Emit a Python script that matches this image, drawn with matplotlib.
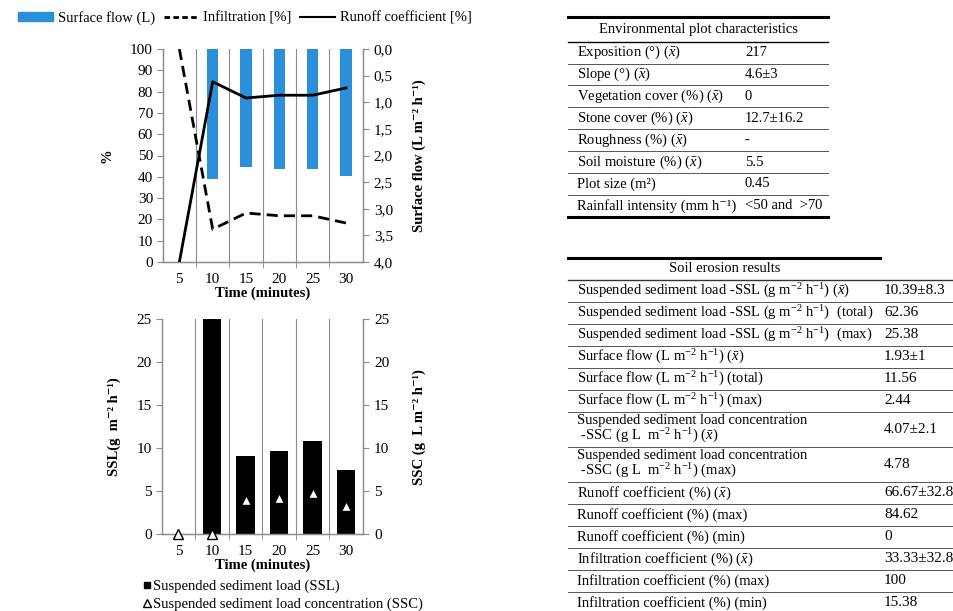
import matplotlib
matplotlib.use("Agg")
import matplotlib.pyplot as plt
from matplotlib.lines import Line2D
from matplotlib.patches import Patch
import numpy as np

plt.rcParams['font.family'] = ['Liberation Serif', 'DejaVu Serif']
plt.rcParams['mathtext.fontset'] = 'custom'
plt.rcParams['mathtext.rm'] = 'Liberation Serif'
plt.rcParams['mathtext.it'] = 'Liberation Serif:italic'
plt.rcParams['mathtext.bf'] = 'Liberation Serif:bold'

# ---------------- data ----------------
time_labels = ['5', '10', '15', '20', '25', '30']
surface_flow = [0, 2.44, 2.22, 2.26, 2.26, 2.38]        # L m-2 h-1 (right axis, inverted)
runoff_coef = [0, 84.62, 77.0, 78.3, 78.3, 81.7]        # %
infiltration = [100, 15.38, 23.0, 21.7, 21.7, 18.3]     # %
ssl = [0, 25.38, 9.05, 9.65, 10.8, 7.48]                # g m-2 h-1
ssc = [0, 0, 3.98, 4.2, 4.78, 3.3]                      # g L m-2 h-1

left_ticks_top = [0, 10, 20, 30, 40, 50, 60, 70, 80, 90, 100]
right_ticks_top = [0.0, 0.5, 1.0, 1.5, 2.0, 2.5, 3.0, 3.5, 4.0]
ticks_bottom = [0, 5, 10, 15, 20, 25]

XB = r'($\bar{x}$)'
U = r'm$^{-2}$ h$^{-1}$'
env_title = 'Environmental plot characteristics'
env_labels = ['Exposition (°) ' + XB, 'Slope (°) ' + XB,
              'Vegetation cover (%) ' + XB, 'Stone cover (%) ' + XB,
              'Roughness (%) ' + XB, 'Soil moisture (%) ' + XB,
              'Plot size (m²)', 'Rainfall intensity (mm h⁻¹)']
env_values = ['217', '4.6±3', '0', '12.7±16.2', '-', '5.5', '0.45', '<50 and  >70']

res_title = 'Soil erosion results'
res_labels = ['Suspended sediment load -SSL (g ' + U + ') ' + XB,
              'Suspended sediment load -SSL (g ' + U + ')  (total)',
              'Suspended sediment load -SSL (g ' + U + ')  (max)',
              'Surface flow (L ' + U + ') ' + XB,
              'Surface flow (L ' + U + ') (total)',
              'Surface flow (L ' + U + ') (max)',
              'Suspended sediment load concentration\n -SSC (g L  ' + U + ') ' + XB,
              'Suspended sediment load concentration\n -SSC (g L  ' + U + ') (max)',
              'Runoff coefficient (%) ' + XB,
              'Runoff coefficient (%) (max)',
              'Runoff coefficient (%) (min)',
              'Infiltration coefficient (%) ' + XB,
              'Infiltration coefficient (%) (max)',
              'Infiltration coefficient (%) (min)']
res_values = ['10.39±8.3', '62.36', '25.38', '1.93±1', '11.56', '2.44', '4.07±2.1',
              '4.78', '66.67±32.8', '84.62', '0', '33.33±32.8', '100', '15.38']

# ---------------- figure ----------------
W, H = 954, 611
fig = plt.figure(figsize=(W / 100, H / 100), dpi=100)
FS = 10.5
TFS = 11
GRAY = '#8c8c8c'
BLUE = '#2B8FD9'

def fx(px):
    return px / W

def fy(py):
    return 1 - py / H

x = np.arange(len(time_labels))

def style_axes(ax, ax2):
    for a in (ax, ax2):
        a.spines['top'].set_visible(False)
        for s in ('left', 'right', 'bottom'):
            a.spines[s].set_color(GRAY)
            a.spines[s].set_linewidth(0.9)
    ax.set_xlim(-0.5, len(time_labels) - 0.5)
    ax.set_xticks(x)
    ax.set_xticklabels(time_labels, fontsize=TFS)
    ax.tick_params(axis='x', length=0, pad=8)
    ax.set_xticks(np.arange(0.5, len(time_labels) - 0.5, 1), minor=True)
    ax.tick_params(axis='x', which='minor', length=4, color=GRAY)
    for b in np.arange(0.5, len(time_labels) - 0.5, 1):
        ax.axvline(b, color=GRAY, lw=0.8, zorder=0)
    ax.tick_params(axis='y', length=4, color=GRAY, labelsize=TFS, pad=3)
    ax2.tick_params(axis='y', length=4, color=GRAY, labelsize=TFS, pad=4)
    ax.set_xlabel('Time (minutes)', fontsize=FS, fontweight='bold', labelpad=0)

# ---- top chart ----
ax1 = fig.add_axes([fx(162.7), fy(262), fx(362.7) - fx(162.7), fy(49) - fy(262)])
ax1b = ax1.twinx()
style_axes(ax1, ax1b)
ax1b.bar(x, surface_flow, width=0.34, color=BLUE, zorder=2)
ax1b.set_ylim(4, 0)
ax1b.set_yticks(right_ticks_top)
ax1b.set_yticklabels([f'{v:.1f}'.replace('.', ',') for v in right_ticks_top])
ax1.plot(x, infiltration, color='black', lw=2, ls=(0, (4, 2.2)), zorder=3)
ax1.plot(x, runoff_coef, color='black', lw=2, zorder=3)
ax1.set_ylim(0, 100)
ax1.set_yticks(left_ticks_top)
ax1.set_zorder(ax1b.get_zorder() + 1)
ax1.patch.set_visible(False)
ax1.set_ylabel('%', fontsize=FS, fontweight='bold', labelpad=12)
ax1b.set_ylabel('Surface flow (L m⁻² h⁻¹)', fontsize=FS, fontweight='bold', labelpad=14)

fig.legend(handles=[Patch(color=BLUE),
                    Line2D([], [], color='black', lw=2, ls=(0, (2, 1.2))),
                    Line2D([], [], color='black', lw=1.5)],
           labels=['Surface flow (L)', 'Infiltration [%]', 'Runoff coefficient [%]'],
           loc='center', bbox_to_anchor=(fx(245), fy(18)), ncol=3, frameon=False,
           fontsize=FS, handlelength=2.4, handleheight=0.5, handletextpad=0.3,
           columnspacing=0.6, borderpad=0)

# ---- bottom chart ----
ax2 = fig.add_axes([fx(161.7), fy(534.3), fx(363) - fx(161.7), fy(319) - fy(534.3)])
ax2b = ax2.twinx()
style_axes(ax2, ax2b)
ax2.bar(x, ssl, width=0.55, color='black', zorder=2)
ax2.set_ylim(0, 25)
ax2.set_yticks(ticks_bottom)
ax2b.plot(x, ssc, ls='none', marker='^', markersize=7, mfc='white', mec='black',
          mew=1.0, clip_on=False, zorder=4)
ax2b.set_ylim(0, 25)
ax2b.set_yticks(ticks_bottom)
ax2.set_ylabel('SSL(g  m⁻² h⁻¹)', fontsize=FS, fontweight='bold', labelpad=11)
ax2b.set_ylabel('SSC (g  L m⁻² h⁻¹)', fontsize=FS, fontweight='bold', labelpad=17)

fig.legend(handles=[Line2D([], [], marker='s', color='black', ls='none', markersize=5),
                    Line2D([], [], marker='^', mfc='white', mec='black', ls='none',
                           markersize=6)],
           labels=['Suspended sediment load (SSL)',
                   'Suspended sediment load concentration (SSC)'],
           loc='upper left', bbox_to_anchor=(fx(143), fy(580)), frameon=False,
           fontsize=FS, handlelength=0.5, handletextpad=0.2, labelspacing=0.3,
           borderpad=0, borderaxespad=0)

# ---- tables ----
tab = fig.add_axes([0, 0, 1, 1])
tab.set_xlim(0, W)
tab.set_ylim(H, 0)
tab.axis('off')
LINEC = '#555555'

# table 1
t1x0, t1x1, t1c2, t1txt = 568, 828, 745, 577
t1top, t1head, t1row = 16.7, 41.7, 21.875
tab.plot([t1x0, t1x1], [t1top, t1top], color='black', lw=2.2)
tab.text((t1x0 + t1x1) / 2, (t1top + t1head) / 2, env_title, ha='center', va='center',
         fontsize=FS)
tab.plot([t1x0, t1x1], [t1head, t1head], color='black', lw=1.0)
for i, (lab, val) in enumerate(zip(env_labels, env_values)):
    yc = t1head + (i + 0.5) * t1row
    tab.text(t1txt, yc, lab, ha='left', va='center', fontsize=FS)
    tab.text(t1c2, yc, val, ha='left', va='center', fontsize=FS)
    yb = t1head + (i + 1) * t1row
    if i < len(env_labels) - 1:
        tab.plot([t1x0, t1x1], [yb, yb], color=LINEC, lw=0.7)
    else:
        tab.plot([t1x0, t1x1], [yb, yb], color='black', lw=2.2)

# table 2
t2x0, t2x1, t2c2, t2txt = 568, 880, 884, 577
t2top, t2head = 258, 280
tab.plot([t2x0, t2x1], [t2top, t2top], color='black', lw=2.2)
tab.text(725, (t2top + t2head) / 2, res_title, ha='center', va='center', fontsize=FS)
tab.plot([t2x0, W], [t2head, t2head], color='#333333', lw=1.0)
y = t2head
for lab, val in zip(res_labels, res_values):
    h = 35 if '\n' in lab else 22
    yc = y + h / 2
    tab.text(t2txt, yc, lab, ha='left', va='center', fontsize=FS, linespacing=1.05)
    tab.text(t2c2, yc, val, ha='left', va='center', fontsize=TFS)
    y += h
    tab.plot([t2x0, W], [y, y], color=LINEC, lw=0.7)

fig.savefig('out.png', dpi=100)
